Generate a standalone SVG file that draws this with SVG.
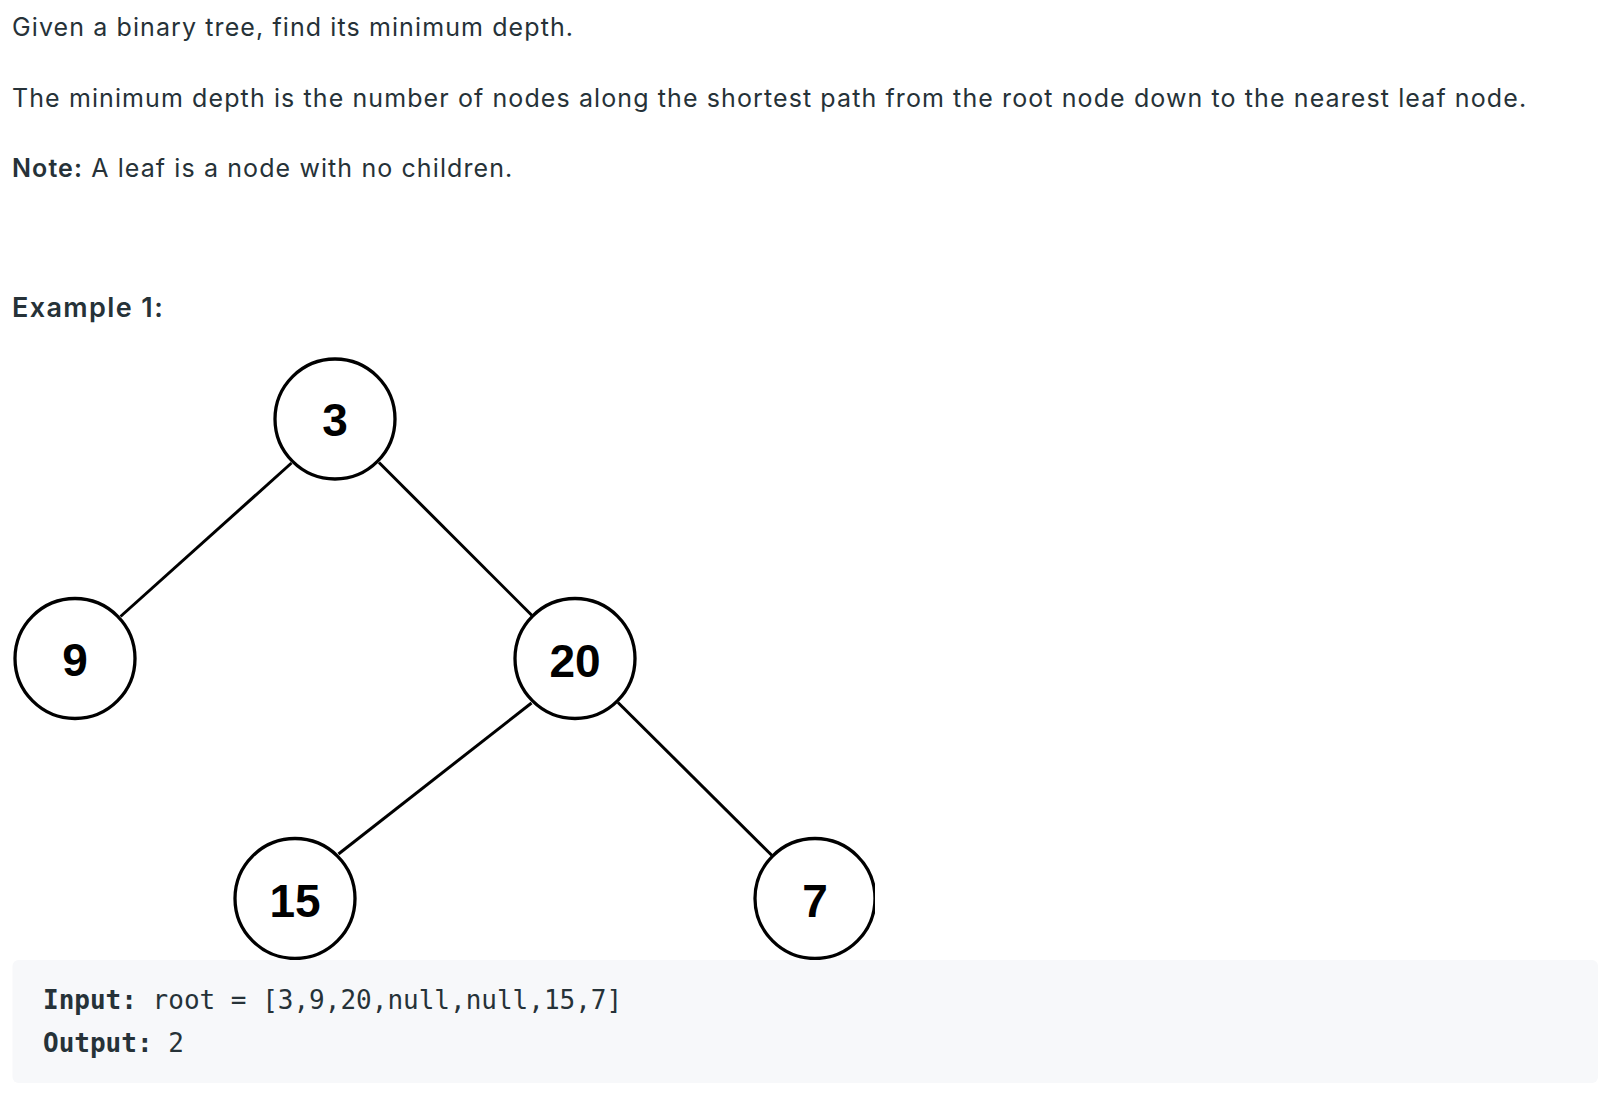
<svg xmlns="http://www.w3.org/2000/svg" width="1620" height="1100" viewBox="0 0 1620 1100">
  <style>
    .body { font-family: Inter, "Noto Sans", "Liberation Sans", sans-serif; font-size: 25px; letter-spacing: 1.1px; fill: #263238; }
    .bold { font-weight: 600; }
    .ex { font-family: Inter, "Noto Sans", "Liberation Sans", sans-serif; font-size: 27px; letter-spacing: 1.4px; font-weight: 600; fill: #263238; }
    .code { font-family: "DejaVu Sans Mono", "Liberation Mono", monospace; font-size: 26px; fill: #263238; }
    .codeb { font-weight: bold; }
    .node circle { fill: #ffffff; stroke: #000000; stroke-width: 3.3; }
    .node text { font-family: "Liberation Sans", Arial, sans-serif; font-size: 46px; font-weight: bold; fill: #000000; text-anchor: middle; }
    .edge { stroke: #000000; stroke-width: 3; stroke-linecap: butt; }
  </style>
  <defs>
    <clipPath id="imgclip">
      <rect x="0" y="330" width="875" height="630"/>
    </clipPath>
  </defs>
  <rect x="0" y="0" width="1620" height="1100" fill="#ffffff"/>

  <g id="description">
    <text class="body" x="12" y="36">Given a binary tree, find its minimum depth.</text>
    <text class="body" x="12" y="107">The minimum depth is the number of nodes along the shortest path from the root node down to the nearest leaf node.</text>
    <text class="body" x="12" y="177"><tspan class="bold">Note:</tspan> A leaf is a node with no children.</text>
    <text class="ex" x="12" y="317">Example 1:</text>
  </g>

  <g clip-path="url(#imgclip)">
    <g id="connectors">
      <line class="edge" x1="291.5" y1="463" x2="120.5" y2="616.5"/>
      <line class="edge" x1="379" y1="462.5" x2="532" y2="615.5"/>
      <line class="edge" x1="531.5" y1="703" x2="338.5" y2="854"/>
      <line class="edge" x1="618" y1="702.5" x2="772" y2="855.5"/>
    </g>
    <g id="node-3" class="node">
      <circle cx="335" cy="419" r="60"/>
      <text x="335" y="436">3</text>
    </g>
    <g id="node-9" class="node">
      <circle cx="75" cy="658.5" r="60"/>
      <text x="75" y="676">9</text>
    </g>
    <g id="node-20" class="node">
      <circle cx="575" cy="658.5" r="60"/>
      <text x="575" y="676.5">20</text>
    </g>
    <g id="node-15" class="node">
      <circle cx="295" cy="898.5" r="60"/>
      <text x="295" y="916.5">15</text>
    </g>
    <g id="node-7" class="node">
      <circle cx="815" cy="898.5" r="60"/>
      <text x="815" y="916.5">7</text>
    </g>
  </g>

  <g id="example-box">
    <rect x="12.5" y="960" width="1585.5" height="123" rx="6" ry="6" fill="#f7f8fa"/>
    <text class="code" x="43" y="1008.5"><tspan class="codeb">Input:</tspan> root = [3,9,20,null,null,15,7]</text>
    <text class="code" x="43" y="1051.5"><tspan class="codeb">Output:</tspan> 2</text>
  </g>
</svg>
